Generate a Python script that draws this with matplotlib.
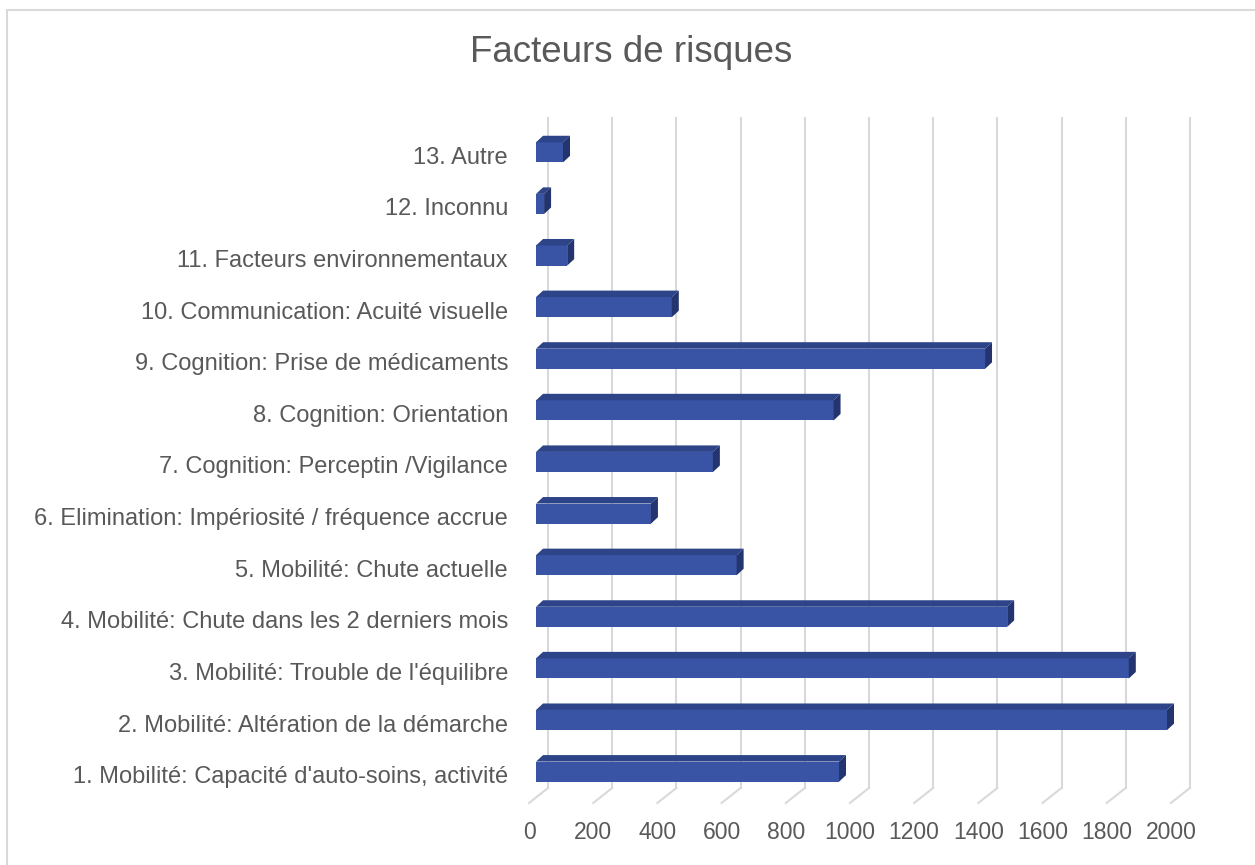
import numpy as np
import matplotlib.pyplot as plt
import matplotlib.transforms as mtransforms
from matplotlib.patches import Polygon, Rectangle

plt.rcParams['font.family'] = ['Liberation Sans', 'DejaVu Sans']

categories = [
    "1. Mobilité: Capacité d'auto-soins, activité",
    "2. Mobilité: Altération de la démarche",
    "3. Mobilité: Trouble de l'équilibre",
    "4. Mobilité: Chute dans les 2 derniers mois",
    "5. Mobilité: Chute actuelle",
    "6. Elimination: Impériosité / fréquence accrue",
    "7. Cognition: Perceptin /Vigilance",
    "8. Cognition: Orientation",
    "9. Cognition: Prise de médicaments",
    "10. Communication: Acuité visuelle",
    "11. Facteurs environnementaux",
    "12. Inconnu",
    "13. Autre",
]
values = [944, 1966, 1847, 1468, 625, 358, 551, 927, 1399, 423, 97, 25, 84]
xticks = [0, 200, 400, 600, 800, 1000, 1200, 1400, 1600, 1800, 2000]

text_col = '#595959'
grid_col = '#D9D9D9'
front_col = '#3954A5'
top_col = '#2D4489'
side_col = '#24346E'

W, H = 1255, 865
fig = plt.figure(figsize=(W / 100, H / 100), dpi=100)

# axes box in pixels
x0, x1 = 520, 1210
ytop, ybot = 110, 815
ax = fig.add_axes([x0 / W, (H - ybot) / H, (x1 - x0) / W, (ybot - ytop) / H])
xmin, xmax = -50, 2100
ymin, ymax = -0.84, 12.82
ax.set_xlim(xmin, xmax)
ax.set_ylim(ymin, ymax)

ux = (xmax - xmin) / (x1 - x0)   # data units per pixel
uy = (ymax - ymin) / (ybot - ytop)

# back wall gridlines + floor diagonals
back_dx, back_y0, top_y = 12 * ux, -0.316, 12.67
for t in xticks:
    ax.plot([t + back_dx, t + back_dx], [back_y0, top_y], color=grid_col, lw=1.5, zorder=1)
    ax.plot([t + back_dx, t - 7 * ux], [back_y0, back_y0 - 15 * uy], color=grid_col, lw=1.5, zorder=1)
    ax.text(t - 7 * ux, back_y0 - 15 * uy - 30 * uy, str(t), ha='center', va='center',
            fontsize=16.5, color=text_col)

# 3D-ish bars
idx = np.arange(len(values))
h = 0.39
dx, dy = 7 * ux, 6.5 * uy
ax.barh(idx, values, height=h, color=front_col, zorder=3)
for i, v in zip(idx, values):
    top = Polygon([(0, i + h / 2), (v, i + h / 2), (v + dx, i + h / 2 + dy), (dx, i + h / 2 + dy)],
                  closed=True, facecolor=top_col, edgecolor='none', zorder=3)
    side = Polygon([(v, i - h / 2), (v, i + h / 2), (v + dx, i + h / 2 + dy), (v + dx, i - h / 2 + dy)],
                   closed=True, facecolor=side_col, edgecolor='none', zorder=3)
    ax.add_patch(top)
    ax.add_patch(side)

ax.set_yticks(idx)
ax.set_yticklabels(categories, fontsize=17, color=text_col)
ax.tick_params(axis='y', length=0, pad=8.6)
shift = mtransforms.ScaledTranslation(0, -3 / 100, fig.dpi_scale_trans)
for lab in ax.get_yticklabels():
    lab.set_transform(lab.get_transform() + shift)
ax.set_xticks([])
for s in ax.spines.values():
    s.set_visible(False)

fig.text(631 / W, 1 - 53 / H, 'Facteurs de risques', ha='center', va='center',
         fontsize=26.5, color=text_col)

# chart area border
fig.add_artist(Rectangle((7 / W, -0.05), 1.2, (H - 10) / H + 0.05, transform=fig.transFigure,
                         fill=False, edgecolor=grid_col, lw=1.5))

fig.savefig('out.png', dpi=100, facecolor='white')
